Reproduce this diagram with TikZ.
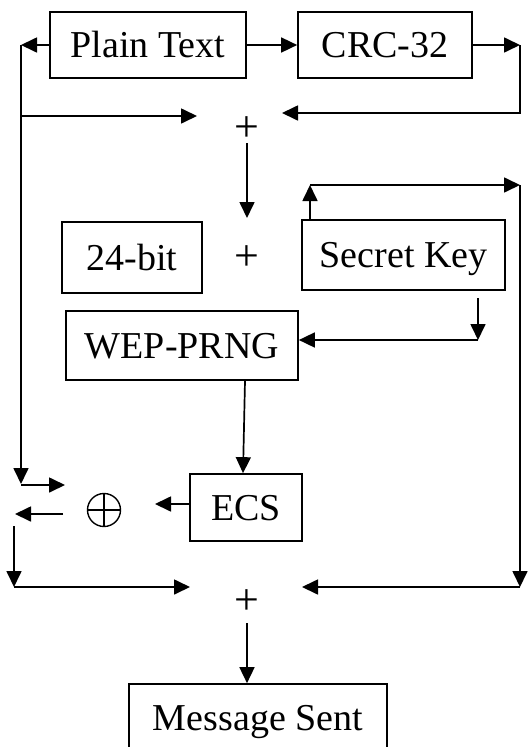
\documentclass[tikz,border=0pt]{standalone}
\usepackage{fontspec}
\setmainfont{Liberation Serif}
\usetikzlibrary{arrows.meta}
\begin{document}
\begin{tikzpicture}[x=1pt,y=-1pt,
  font=\fontsize{38}{42}\selectfont,
  box/.style={draw, line width=1.7pt, inner sep=0pt, anchor=center, text height=25pt, text depth=0pt},
  arr/.style={line width=1.7pt, -{Triangle[length=16pt,width=15pt]}},
  sym/.style={inner sep=0pt, font=\fontsize{44}{48}\selectfont, text height=24pt, text depth=0pt}]
\useasboundingbox (0,0) rectangle (531,747);
\clip (0,0) rectangle (531,747);
% boxes
\node[box, minimum width=196pt, minimum height=66pt] (pt) at (148,45) {Plain Text};
\node[box, minimum width=174pt, minimum height=66pt] (crc) at (385,45) {CRC-32};
\node[box, minimum width=140pt, minimum height=71pt] (bit) at (132,257.5) {24-bit\hspace{12pt}};
\node[box, minimum width=203pt, minimum height=70pt] (sk) at (403.5,255) {Secret Key};
\node[box, minimum width=232pt, minimum height=69pt] (wep) at (182,345.5) {WEP-PRNG};
\node[box, minimum width=112pt, minimum height=67pt] (ecs) at (246,507.5) {ECS};
\node[box, minimum width=258pt, minimum height=68pt] (msg) at (258,718) {Message Sent};
% symbols
\node[sym] (plusA) at (247,129) {+};
\node[sym] (plusB) at (247,258) {+};
\node[sym] (plusC) at (247,602) {+};
\node[circle, draw, line width=1.4pt, minimum size=33pt, inner sep=0pt,
  path picture={\draw[line width=1.4pt] (path picture bounding box.north) -- (path picture bounding box.south)
    (path picture bounding box.west) -- (path picture bounding box.east);}] (xor) at (104,510) {};
% helper coordinates
\coordinate (L1) at (21,45);
\coordinate (L2) at (21,116);
\coordinate (L3) at (21,484);
\coordinate (A1) at (197,116);
\coordinate (R1) at (520,45);
\coordinate (R2) at (520,113);
\coordinate (A2) at (282,113);
\coordinate (D1) at (247,143);
\coordinate (D2) at (247,218);
\coordinate (S1) at (310,185);
\coordinate (S2) at (520,185);
\coordinate (S3) at (520,587);
\coordinate (S4) at (302,587);
\coordinate (K1) at (478,298);
\coordinate (K2) at (478,340);
\coordinate (X1) at (21,485);
\coordinate (X2) at (65,485);
\coordinate (E1) at (155,504);
\coordinate (Y1) at (63,514);
\coordinate (Y2) at (15,514);
\coordinate (Z1) at (14,526);
\coordinate (Z2) at (14,587);
\coordinate (Z3) at (190,587);
\coordinate (M1) at (247,623);
% connectors
\draw[arr] (pt.east) -- (crc.west);
\draw[arr] (pt.west) -- (L1);
\draw[arr] (crc.east) -- (R1);
\draw[arr] (R1) -- (R2) -- (A2);
\draw[arr] (L1) -- (L3);
\draw[arr] (L2) -- (A1);
\draw[arr] (D1) -- (D2);
\draw[arr] (sk.north west -| S1) -- (S1);
\draw[arr] (S1) -- (S2);
\draw[arr] (S2) -- (S3);
\draw[arr] (S3) -- (S4);
\draw[arr] (K1) -- (K2);
\draw[arr] (K2) -- (K2 -| wep.east);
\draw[arr] (wep.south -| 245,0) -- (ecs.north -| 243,0);
\draw[arr] (ecs.west |- E1) -- (E1);
\draw[arr] (X1) -- (X2);
\draw[arr] (Y1) -- (Y2);
\draw[arr] (Z1) -- (Z2);
\draw[arr] (Z2) -- (Z3);
\draw[arr] (M1) -- (msg.north -| M1);
\end{tikzpicture}
\end{document}
